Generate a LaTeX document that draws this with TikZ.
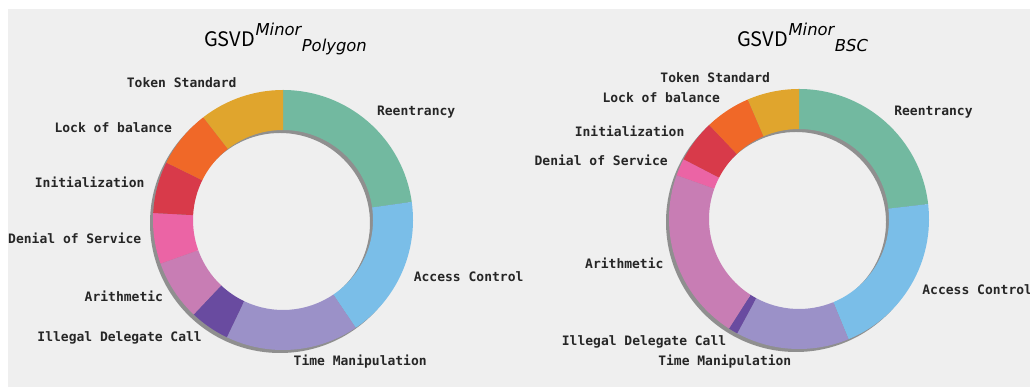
\documentclass[tikz,border=0pt]{standalone}
\usepackage{fontspec}
\usepackage{tikz}
\newfontfamily\cjk{Noto Sans CJK SC}
\newfontfamily\monofont{DejaVu Sans Mono}
\newfontfamily\mathsans{DejaVu Sans}

\definecolor{bgGray}{HTML}{EFEFEF}
\definecolor{cReen}{HTML}{72B9A0}
\definecolor{cAcc}{HTML}{7ABEE8}
\definecolor{cTime}{HTML}{9B91C8}
\definecolor{cIll}{HTML}{694BA0}
\definecolor{cAri}{HTML}{C87DB4}
\definecolor{cDos}{HTML}{EB64A5}
\definecolor{cInit}{HTML}{D83A4A}
\definecolor{cLock}{HTML}{F06828}
\definecolor{cTok}{HTML}{E0A52D}

\begin{document}
\begin{tikzpicture}[x=1pt,y=1pt]
            \tikzstyle{every node}+=[inner sep=0pt]
            \tikzstyle{lbl}=[font=\monofont\bfseries\fontsize{13}{13}\selectfont, text=black!85, text height=9.5pt, text depth=3pt]
            \tikzstyle{gsvd}=[anchor=base west, font=\cjk\fontsize{20}{20}\selectfont]
            \tikzstyle{scr}=[anchor=base west, font=\mathsans\itshape\fontsize{16.4}{16.4}\selectfont]
            \tikzstyle{shade}=[fill=black, opacity=0.4, even odd rule]
            \useasboundingbox (0,0) rectangle (1030,387);
            \fill [white] (0,0) rectangle (1030,387);
            \fill [bgGray] (8,0) rectangle (1030,378);
            % left chart
            \begin{scope}[shift={(283,167)}]
            \fill [shade] (-3,-3) circle (130) (-3,-3) circle (90);
            \foreach \a/\b/\col/\txt/\nm in {90/8/cReen/Reentrancy/reen,
                8/-56/cAcc/Access Control/acc, -56/-115.6/cTime/Time Manipulation/time,
                -115.6/-133.4/cIll/Illegal Delegate Call/ill, -133.4/-160.4/cAri/Arithmetic/ari,
                -160.4/-183.1/cDos/Denial of Service/dos, -183.1/-206.2/cInit/Initialization/init,
                -206.2/-232.2/cLock/Lock of balance/lock, -232.2/-270/cTok/Token Standard/tok} {
              \fill [\col] (\a:130) arc[start angle=\a, end angle=\b, radius=130]
                -- (\b:90) arc[start angle=\b, end angle=\a, radius=90] -- cycle;
              \pgfmathsetmacro\mid{(\a+\b)/2}
              \pgfmathtruncatemacro\side{cos(\mid)>0}
              \ifnum\side=1 \def\anc{west}\else\def\anc{east}\fi
              \node [lbl, anchor=\anc] (l\nm) at (\mid:143) {\txt};
            }
            \end{scope}
            \node [gsvd] (lG) at (204,340) {GSVD};
            \node [scr] (lSup) at ([yshift=11pt]lG.base east) {Minor};
            \node [scr] (lSub) at ([yshift=-16pt]lSup.base east) {Polygon};
            % right chart
            \begin{scope}[shift={(799,168)}]
            \fill [shade] (-3,-3) circle (130) (-3,-3) circle (90);
            \foreach \a/\b/\col/\txt/\nm in {90/6.6/cReen/Reentrancy/reen,
                6.6/-67.6/cAcc/Access Control/acc, -67.6/-118.4/cTime/Time Manipulation/time,
                -118.4/-122.6/cIll/Illegal Delegate Call/ill, -122.6/-199.7/cAri/Arithmetic/ari,
                -199.7/-207.4/cDos/Denial of Service/dos, -207.4/-226.3/cInit/Initialization/init,
                -226.3/-246.8/cLock/Lock of balance/lock, -246.8/-270/cTok/Token Standard/tok} {
              \fill [\col] (\a:130) arc[start angle=\a, end angle=\b, radius=130]
                -- (\b:90) arc[start angle=\b, end angle=\a, radius=90] -- cycle;
              \pgfmathsetmacro\mid{(\a+\b)/2}
              \pgfmathtruncatemacro\side{cos(\mid)>0}
              \ifnum\side=1 \def\anc{west}\else\def\anc{east}\fi
              \node [lbl, anchor=\anc] (r\nm) at (\mid:143) {\txt};
            }
            \end{scope}
            \node [gsvd] (rG) at (737,340) {GSVD};
            \node [scr] (rSup) at ([yshift=11pt]rG.base east) {Minor};
            \node [scr] (rSub) at ([yshift=-16pt]rSup.base east) {BSC};
        \end{tikzpicture}
\end{document}
